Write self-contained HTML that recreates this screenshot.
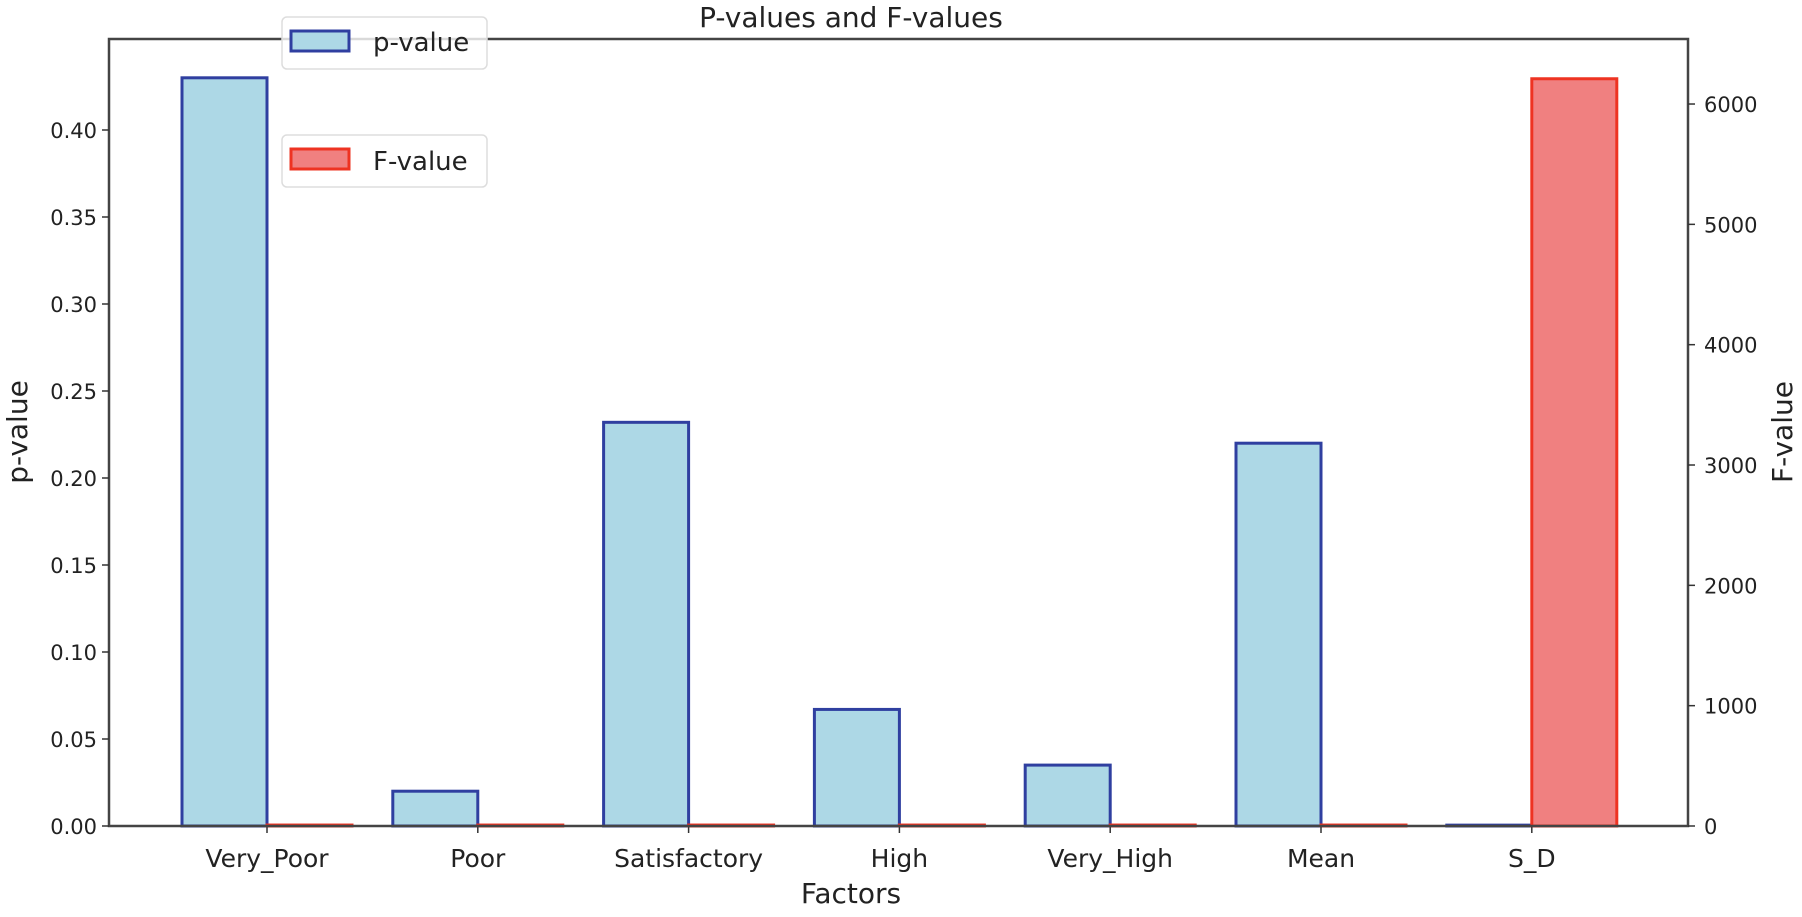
<!DOCTYPE html>
<html><head><meta charset="utf-8"><style>
html,body{margin:0;padding:0;background:#fff;}
svg text{font-family:"DejaVu Sans","Liberation Sans",sans-serif;fill:#222;}
</style></head><body>
<svg id="chart" width="1802" height="912" viewBox="0 0 1802 912" xmlns="http://www.w3.org/2000/svg">
<text x="851" y="27" font-size="28" text-anchor="middle">P-values and F-values</text>
<g id="bars"></g>
<g id="axes"></g>
<text x="851" y="903" font-size="28" text-anchor="middle">Factors</text>
<text transform="translate(27,432) rotate(-90)" font-size="28" text-anchor="middle">p-value</text>
<text transform="translate(1792,432) rotate(-90)" font-size="28" text-anchor="middle">F-value</text>
<g>
<rect x="282" y="17" width="205" height="52" rx="5" fill="rgba(255,255,255,0.8)" stroke="#ddd" stroke-width="1.5"/>
<rect x="291" y="31" width="58" height="20" fill="lightblue" stroke="#2f3fa0" stroke-width="3"/>
<text x="373" y="51" font-size="26">p-value</text>
</g>
<g>
<rect x="282" y="135" width="205" height="52" rx="5" fill="#fff" stroke="#ddd" stroke-width="1.5"/>
<rect x="291" y="149" width="58" height="20" fill="lightcoral" stroke="#e32" stroke-width="3"/>
<text x="373" y="170" font-size="26">F-value</text>
</g>
</svg>
<script>
const categories = ["Very_Poor","Poor","Satisfactory","High","Very_High","Mean","S_D"];
const pValues = [0.43, 0.02, 0.232, 0.067, 0.035, 0.22, 0.0005];
const fValues = [8, 8, 8, 8, 8, 8, 6210];
const leftTicks = ["0.00","0.05","0.10","0.15","0.20","0.25","0.30","0.35","0.40"];
const rightTicks = [0,1000,2000,3000,4000,5000,6000];

const L=109,R=1688,T=39,B=826;
const step=210.8, x0=267, bw=85;
const yP=v=>B-v*1740;
const yF=v=>B-v*0.12033;
const xC=i=>x0+i*step;
const NS="http://www.w3.org/2000/svg";
function mk(tag,attrs,parent){const e=document.createElementNS(NS,tag);for(const k in attrs)e.setAttribute(k,attrs[k]);parent.appendChild(e);return e;}
const bars=document.getElementById('bars'), axes=document.getElementById('axes');
categories.forEach((c,i)=>{
  const p=mk('rect',{x:xC(i)-bw,y:yP(pValues[i]),width:bw,height:Math.max(0,B-yP(pValues[i])),fill:'lightblue',stroke:'#2f3fa0','stroke-width':3},bars);
  
  
  const f=mk('rect',{x:xC(i),y:yF(fValues[i]),width:bw,height:Math.max(0,B-yF(fValues[i])),fill:'lightcoral',stroke:'#e32','stroke-width':3},bars);
  
  
  mk('line',{x1:xC(i),x2:xC(i),y1:B,y2:B+7,stroke:'#333','stroke-width':1.5},axes);
  const t=mk('text',{x:xC(i),y:B+41,'font-size':25,'text-anchor':'middle'},axes);
  t.textContent=c;
  
  
});
mk('rect',{x:L,y:T,width:R-L,height:B-T,fill:'none',stroke:'#444','stroke-width':2.5},axes);
leftTicks.forEach(s=>{
  const y=yP(parseFloat(s));
  mk('line',{x1:L-7,x2:L,y1:y,y2:y,stroke:'#333','stroke-width':1.5},axes);
  const t=mk('text',{x:L-12,y:y+8,'font-size':21,'text-anchor':'end'},axes);
  t.textContent=s;
  
  
});
rightTicks.forEach(v=>{
  const y=yF(v);
  mk('line',{x1:R,x2:R+7,y1:y,y2:y,stroke:'#333','stroke-width':1.5},axes);
  const t=mk('text',{x:R+16,y:y+8,'font-size':21,'text-anchor':'start'},axes);
  t.textContent=String(v);
  
  
});
</script>
</body></html>
